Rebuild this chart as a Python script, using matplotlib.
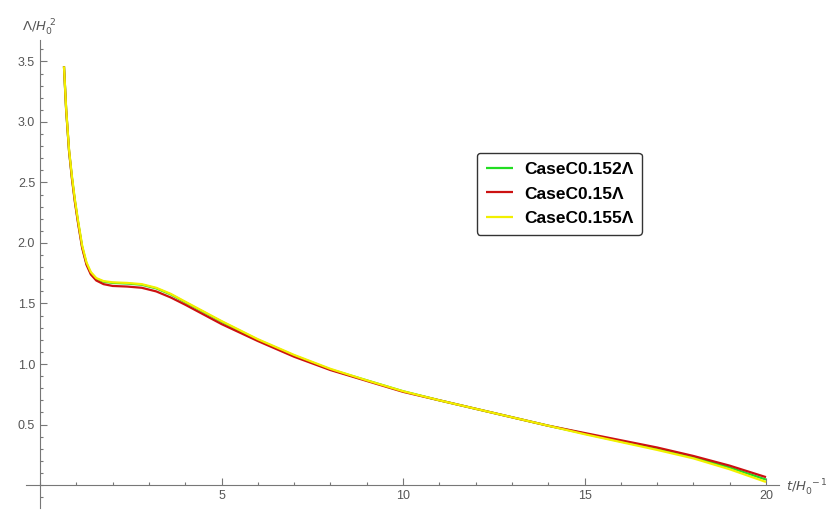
import matplotlib
matplotlib.use("Agg")
import matplotlib.pyplot as plt
from matplotlib.ticker import MultipleLocator

plt.rcParams['font.family'] = ['Liberation Sans', 'DejaVu Sans']

# data
t = [0.66, 0.72, 0.80, 0.88, 0.96, 1.05, 1.16, 1.28, 1.40, 1.55, 1.75, 2.0, 2.4, 2.8,
     3.2, 3.6, 4.0, 4.5, 5.0, 5.5, 6.0, 7.0, 8.0, 9.0, 10.0, 11.0, 12.0, 13.0, 14.0,
     15.0, 16.0, 17.0, 18.0, 19.0, 20.0]
case_152 = [3.46, 3.10, 2.76, 2.54, 2.35, 2.17, 1.97, 1.83, 1.75, 1.705, 1.68, 1.67, 1.665,
            1.655, 1.625, 1.575, 1.51, 1.43, 1.35, 1.275, 1.20, 1.07, 0.955, 0.865, 0.775,
            0.70, 0.63, 0.56, 0.49, 0.425, 0.36, 0.30, 0.23, 0.145, 0.045]
case_150 = [3.46, 3.10, 2.76, 2.53, 2.34, 2.16, 1.96, 1.82, 1.74, 1.69, 1.66, 1.645, 1.64,
            1.63, 1.60, 1.55, 1.49, 1.41, 1.33, 1.26, 1.19, 1.06, 0.95, 0.86, 0.77, 0.70,
            0.63, 0.56, 0.49, 0.43, 0.37, 0.31, 0.24, 0.16, 0.065]
case_155 = [3.46, 3.11, 2.77, 2.55, 2.36, 2.18, 1.98, 1.84, 1.76, 1.71, 1.685, 1.675, 1.67,
            1.66, 1.63, 1.58, 1.515, 1.435, 1.355, 1.28, 1.205, 1.075, 0.96, 0.865, 0.775,
            0.70, 0.63, 0.56, 0.49, 0.42, 0.355, 0.29, 0.22, 0.13, 0.025]

labels = ['CaseC0.152Λ', 'CaseC0.15Λ', 'CaseC0.155Λ']
colors = ['#22dd22', '#cc1111', '#f2f000']

fig = plt.figure(figsize=(8.37, 5.12), dpi=100)
ax = fig.add_axes([25.5 / 837, 4 / 512, 753.2 / 837, 468.3 / 512])

for ys, lab, col in zip([case_152, case_150, case_155], labels, colors):
    ax.plot(t, ys, color=col, lw=1.6, label=lab, solid_capstyle='butt')

ax.set_xlim(-0.4, 20.35)
ax.set_ylim(-0.19, 3.68)

# mathematica style axes through origin
for s in ['top', 'right']:
    ax.spines[s].set_visible(False)
ax.spines['left'].set_position(('data', 0))
ax.spines['bottom'].set_position(('data', 0))
for s in ['left', 'bottom']:
    ax.spines[s].set_color('#777777')
    ax.spines[s].set_linewidth(0.8)

ax.set_xticks([5, 10, 15, 20])
ax.set_yticks([0.5, 1.0, 1.5, 2.0, 2.5, 3.0, 3.5])
ax.xaxis.set_minor_locator(MultipleLocator(1))
ax.yaxis.set_minor_locator(MultipleLocator(0.1))
ax.tick_params(which='both', direction='in', colors='#777777', labelcolor='#555555',
               labelsize=9, width=0.8)
ax.tick_params(which='major', length=5)
ax.tick_params(which='minor', length=2.5)

fig.text(22 / 837, 1 - 28 / 512, r'$\Lambda/H_0^{\ 2}$', color='#555555', fontsize=9.5,
         va='center', ha='left')
fig.text(786 / 837, 1 - 488 / 512, r'$t/H_0^{\ -1}$', color='#555555', fontsize=9.5,
         va='center', ha='left')

leg = fig.legend(loc='upper left', bbox_to_anchor=(477 / 837, 1 - 153 / 512),
                 prop={'weight': 'bold', 'size': 12.5}, frameon=True, fancybox=True,
                 edgecolor='black', handlelength=1.6, borderpad=0.5, labelspacing=0.55,
                 borderaxespad=0, handletextpad=0.6)
leg.get_frame().set_linewidth(1.0)

fig.savefig('out.png', dpi=100)
